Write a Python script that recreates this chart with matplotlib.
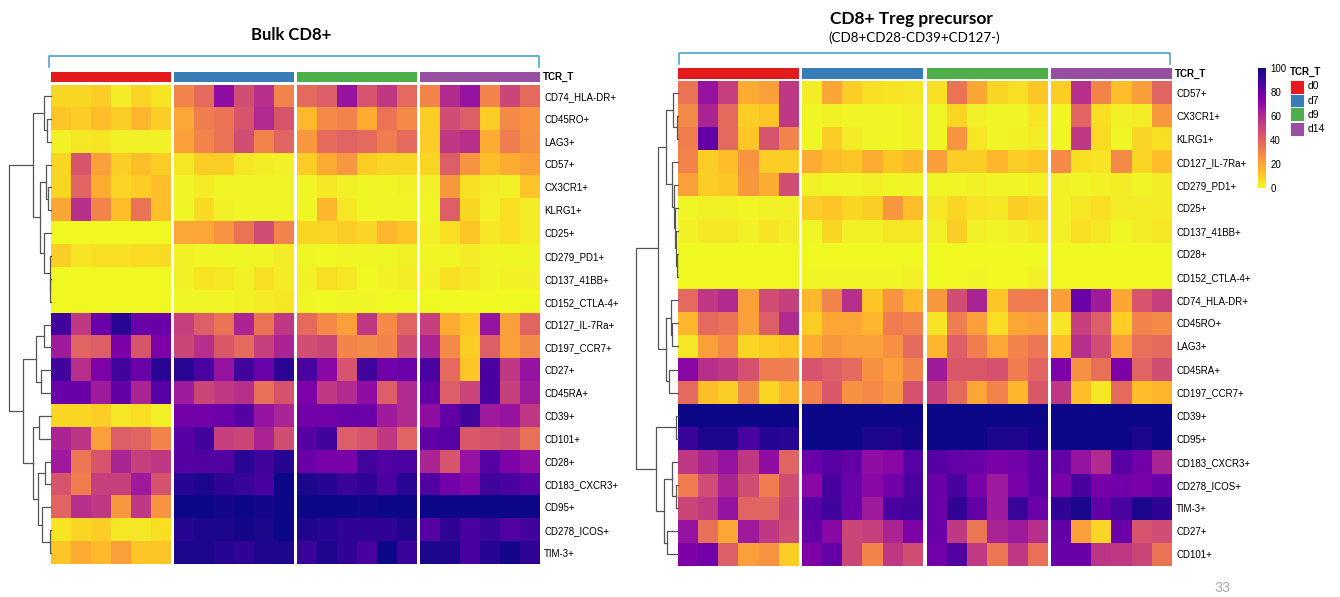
import numpy as np
import matplotlib
matplotlib.use("Agg")
import matplotlib.pyplot as plt
from matplotlib.cm import ScalarMappable
from matplotlib.colors import Normalize
from matplotlib.patches import Rectangle

W, H = 1340, 597

groups = ["d0", "d7", "d9", "d14"]
group_colors = ["#e41a1c", "#377eb8", "#4daf4a", "#984ea3"]

# ---- Bulk CD8+ : 21 markers x 24 samples (6 per time point) ----
bulk_markers = ["CD74_HLA-DR+", "CD45RO+", "LAG3+", "CD57+", "CX3CR1+", "KLRG1+",
                "CD25+", "CD279_PD1+", "CD137_41BB+", "CD152_CTLA-4+", "CD127_IL-7Ra+",
                "CD197_CCR7+", "CD27+", "CD45RA+", "CD39+", "CD101+", "CD28+",
                "CD183_CXCR3+", "CD95+", "CD278_ICOS+", "TIM-3+"]
bulk_values = np.array([
    [8, 8, 10, 3, 8, 5,      30, 38, 70, 48, 58, 30,  38, 42, 68, 45, 55, 38,  30, 60, 68, 30, 50, 38],
    [12, 10, 14, 10, 16, 10, 20, 32, 35, 45, 60, 45,  15, 28, 30, 18, 35, 28,  10, 48, 42, 10, 28, 25],
    [2, 4, 5, 2, 2, 2,       22, 30, 35, 48, 30, 40,  24, 38, 40, 38, 32, 38,  10, 55, 58, 18, 32, 26],
    [8, 45, 22, 10, 14, 10,  4, 10, 10, 4, 3, 2,      10, 18, 24, 10, 8, 8,    8, 42, 25, 14, 18, 22],
    [8, 40, 18, 8, 10, 14,   1, 3, 1, 1, 1, 1,        1, 4, 2, 1, 1, 2,        2, 24, 6, 3, 2, 12],
    [20, 58, 30, 14, 35, 14, 1, 7, 2, 1, 1, 1,        1, 16, 4, 1, 1, 1,       1, 42, 8, 2, 6, 3],
    [0, 0, 0, 0, 0, 0,       20, 20, 25, 35, 48, 30,  8, 8, 10, 8, 16, 12,     2, 6, 12, 4, 6, 3],
    [10, 5, 6, 6, 7, 7,      2, 1, 1, 1, 1, 3,        1, 0, 1, 1, 1, 2,        1, 1, 3, 1, 1, 1],
    [0, 0, 0, 0, 0, 0,       2, 5, 4, 2, 6, 3,        2, 6, 4, 0, 2, 3,        2, 6, 4, 1, 2, 2],
    [0, 0, 0, 0, 0, 0,       1, 1, 1, 2, 3, 4,        1, 0, 1, 1, 0, 0,        0, 0, 0, 0, 0, 0],
    [90, 55, 80, 95, 80, 80, 52, 42, 35, 62, 35, 55,  38, 28, 22, 55, 28, 40,  52, 18, 12, 68, 22, 40],
    [65, 40, 42, 75, 45, 75, 50, 58, 44, 38, 52, 62,  48, 50, 30, 28, 30, 48,  62, 28, 10, 42, 22, 28],
    [90, 58, 75, 90, 80, 95, 95, 88, 68, 90, 80, 95,  88, 72, 45, 90, 78, 80,  88, 38, 12, 88, 55, 68],
    [80, 80, 65, 82, 62, 85, 66, 50, 55, 58, 36, 46,  75, 55, 60, 70, 42, 60,  82, 42, 50, 88, 52, 66],
    [8, 8, 10, 4, 6, 2,      78, 78, 80, 85, 68, 62,  78, 78, 80, 80, 65, 60,  70, 82, 90, 66, 68, 55],
    [62, 56, 22, 42, 40, 30, 85, 90, 52, 50, 62, 48,  85, 90, 42, 45, 55, 40,  82, 85, 44, 46, 48, 36],
    [66, 34, 45, 62, 52, 55, 85, 86, 86, 95, 90, 96,  80, 76, 76, 90, 86, 88,  62, 45, 68, 85, 75, 70],
    [45, 32, 52, 52, 66, 46, 96, 98, 94, 92, 88, 100, 98, 96, 92, 94, 88, 95,  86, 78, 74, 90, 88, 84],
    [40, 58, 55, 24, 55, 25, 100, 100, 99, 100, 99, 100, 100, 100, 100, 99, 100, 100, 100, 100, 100, 100, 100, 100],
    [5, 8, 10, 4, 4, 6,      96, 98, 98, 99, 98, 100, 97, 96, 94, 94, 94, 97,  85, 94, 88, 92, 86, 90],
    [12, 18, 15, 22, 12, 12, 98, 98, 96, 94, 97, 98,  92, 97, 94, 88, 100, 92, 98, 97, 88, 96, 99, 94],
])

# ---- CD8+ Treg precursor ----
treg_markers = ["CD57+", "CX3CR1+", "KLRG1+", "CD127_IL-7Ra+", "CD279_PD1+", "CD25+",
                "CD137_41BB+", "CD28+", "CD152_CTLA-4+", "CD74_HLA-DR+", "CD45RO+", "LAG3+",
                "CD45RA+", "CD197_CCR7+", "CD39+", "CD95+", "CD183_CXCR3+", "CD278_ICOS+",
                "TIM-3+", "CD27+", "CD101+"]
treg_values = np.array([
    [35, 68, 52, 18, 22, 55, 3, 20, 10, 6, 5, 4,      6, 35, 20, 8, 6, 12,     10, 58, 30, 14, 22, 40],
    [28, 62, 38, 10, 12, 55, 1, 2, 1, 1, 1, 2,        1, 8, 2, 1, 1, 5,        1, 40, 6, 2, 3, 24],
    [32, 82, 38, 12, 45, 30, 1, 10, 3, 1, 1, 2,       1, 25, 4, 1, 2, 3,       1, 55, 7, 1, 8, 6],
    [30, 10, 14, 25, 10, 10, 18, 14, 12, 18, 12, 15,  22, 10, 10, 16, 10, 12,  28, 6, 5, 28, 8, 14],
    [22, 10, 12, 24, 18, 48, 2, 1, 1, 2, 1, 1,        1, 1, 2, 1, 1, 2,        2, 1, 2, 3, 1, 3],
    [1, 2, 2, 1, 2, 2,       10, 12, 8, 10, 24, 14,   4, 8, 5, 4, 10, 8,       2, 4, 6, 3, 3, 3],
    [2, 4, 4, 2, 5, 3,       1, 8, 2, 2, 4, 4,        2, 10, 2, 1, 3, 5,       2, 6, 4, 1, 3, 4],
    [0, 0, 0, 0, 0, 0,       0, 0, 0, 0, 0, 0,        0, 0, 0, 0, 0, 0,        0, 0, 0, 0, 0, 0],
    [0, 0, 0, 0, 0, 0,       1, 1, 1, 1, 1, 2,        0, 0, 1, 0, 0, 2,        0, 0, 0, 0, 0, 0],
    [38, 55, 60, 22, 48, 52, 15, 30, 58, 12, 25, 15,  24, 48, 62, 12, 32, 32,  22, 80, 65, 20, 45, 52],
    [16, 38, 35, 22, 42, 60, 10, 20, 20, 16, 32, 30,  5, 32, 22, 6, 20, 22,    4, 52, 42, 10, 30, 28],
    [4, 22, 28, 8, 10, 12,   18, 24, 22, 22, 26, 38,  16, 42, 32, 20, 30, 34,  14, 58, 48, 22, 36, 38],
    [72, 58, 55, 46, 32, 32, 45, 42, 38, 26, 22, 30,  65, 44, 44, 46, 32, 40,  75, 26, 36, 75, 40, 48],
    [38, 14, 10, 28, 8, 16,  30, 44, 26, 28, 24, 46,  52, 38, 20, 30, 16, 44,  55, 14, 4, 38, 14, 16],
    [100, 100, 100, 100, 100, 100, 100, 100, 100, 100, 100, 100, 100, 100, 100, 100, 100, 100, 100, 100, 100, 100, 100, 100],
    [92, 98, 98, 88, 96, 95, 100, 100, 100, 98, 97, 99, 100, 100, 100, 98, 97, 99, 100, 100, 100, 100, 98, 100],
    [55, 62, 68, 55, 70, 40, 80, 85, 82, 70, 72, 85,  85, 82, 80, 76, 78, 84,  82, 68, 60, 84, 78, 62],
    [32, 48, 62, 48, 32, 48, 72, 88, 80, 72, 78, 88,  80, 88, 76, 66, 76, 84,  76, 88, 76, 78, 76, 80],
    [50, 54, 68, 40, 40, 50, 84, 90, 80, 66, 88, 90,  80, 94, 82, 66, 92, 80,  94, 98, 82, 88, 98, 94],
    [68, 36, 20, 66, 55, 48, 82, 72, 50, 52, 62, 75,  80, 55, 34, 62, 66, 58,  82, 22, 8, 80, 45, 48],
    [75, 78, 42, 22, 25, 10, 75, 82, 50, 30, 55, 48,  78, 86, 54, 34, 55, 36,  80, 80, 56, 55, 50, 35],
])

# row dendrograms: (merge height, left, right), leaves are row indices
bulk_tree = (124,
             (54, (22, 0, (12, 1, 2)),
                  (32, (14, 3, (8, 4, 5)), (22, 6, (4, 7, (2, 8, 9))))),
             (84, (44, (22, 10, 11), (30, 12, 13)),
                  (52, (35, 14, 15), (37, (17, 16, 17), (27, 18, (4, 19, 20))))))
treg_tree = (125,
             (59, (35, (15, 0, (3, 1, 2)),
                       (19, 3, (12, 4, (8, 5, (6, 6, (2, 7, 8)))))),
                  (37, (22, 9, (17, 10, 11)), (27, 12, 13))),
             (65, (5, 14, 15),
                  (42, (17, 16, (7, 17, 18)), (32, 19, 20))))

cmap = plt.get_cmap("plasma_r")
norm = Normalize(0, 100)
bracket_color = "#3d9cc9"
label_font = "Liberation Sans"
title_font = "Lato"


def box(x0, y0, x1, y1):
    return [x0 / W, 1 - y1 / H, (x1 - x0) / W, (y1 - y0) / H]


def fx(x):
    return x / W


def fy(y):
    return 1 - y / H


def plain(ax):
    ax.set_xticks([])
    ax.set_yticks([])
    for s in ax.spines.values():
        s.set_visible(False)


def dendro(ax, node):
    if isinstance(node, int):
        return node, 0
    h, left, right = node
    yl, hl = dendro(ax, left)
    yr, hr = dendro(ax, right)
    ax.plot([hl, h, h, hr], [yl, yl, yr, yr], color="#555555", lw=0.9, clip_on=False)
    return (yl + yr) / 2, h


def panel(values, markers, tree, x0, gw, gap, top, bottom, bar_top, bar_bottom, dendro_x):
    n = len(markers)
    per = values.shape[1] // len(groups)
    for g in range(len(groups)):
        x = x0 + g * (gw + gap)
        ax = fig.add_axes(box(x, top, x + gw, bottom))
        ax.imshow(values[:, g * per:(g + 1) * per], cmap=cmap, norm=norm,
                  aspect="auto", interpolation="nearest")
        plain(ax)
        bar = fig.add_axes(box(x, bar_top, x + gw, bar_bottom))
        plain(bar)
        bar.set_facecolor(group_colors[g])
    # row labels on the right of the last block
    ax.yaxis.tick_right()
    ax.set_yticks(range(n))
    ax.set_yticklabels(markers, fontsize=7, family=label_font)
    ax.tick_params(axis="y", length=0, pad=3)
    x_end = x0 + len(groups) * gw + (len(groups) - 1) * gap
    fig.text(fx(x_end + 3), fy((bar_top + bar_bottom) / 2), "TCR_T", fontsize=7,
             fontweight="bold", family=label_font, va="center", ha="left")
    # dendrogram
    dax = fig.add_axes(box(dendro_x, top, x0, bottom))
    dendro(dax, tree)
    dax.set_ylim(n - 0.5, -0.5)
    dax.set_xlim(tree[0], 0)
    dax.axis("off")


def bracket(x0, x1, y, y_end):
    bax = fig.add_axes([0, 0, 1, 1])
    bax.set_xlim(0, W)
    bax.set_ylim(H, 0)
    bax.axis("off")
    bax.plot([x0, x0, x1, x1], [y_end, y, y, y_end], color=bracket_color, lw=1.1)


fig = plt.figure(figsize=(W / 100, H / 100), dpi=100)

# left: Bulk CD8+
panel(bulk_values, bulk_markers, bulk_tree, 51, 119.7, 3.4, 84.5, 564.5, 72.3, 82.3, 9)
bracket(48.6, 538.9, 55.7, 66.5)
fig.text(fx(291.5), fy(35), "Bulk CD8+", fontsize=12, fontweight="bold",
         family=title_font, ha="center", va="center")

# right: CD8+ Treg precursor
panel(treg_values, treg_markers, treg_tree, 678, 121, 3.3, 81, 565.7, 68.3, 79, 636)
bracket(679.3, 1169.6, 53.3, 64)
fig.text(fx(911.5), fy(19), "CD8+ Treg precursor", fontsize=12.5, fontweight="bold",
         family=title_font, ha="center", va="center")
fig.text(fx(914.5), fy(37.5), "(CD8+CD28-CD39+CD127-)", fontsize=9.6,
         family=title_font, ha="center", va="center")

# colour scale
cax = fig.add_axes(box(1258.3, 68.3, 1266, 188.3))
cb = fig.colorbar(ScalarMappable(norm=norm, cmap=cmap), cax=cax)
cb.outline.set_visible(False)
cb.set_ticks([0, 20, 40, 60, 80, 100])
cax.tick_params(length=0, pad=3, labelsize=7)
for t in cax.get_yticklabels():
    t.set_family(label_font)

# TCR_T legend
fig.text(fx(1290), fy(71.7), "TCR_T", fontsize=7, fontweight="bold",
         family=label_font, va="center", ha="left")
for i, (name, col) in enumerate(zip(groups, group_colors)):
    y0 = 79.5 + i * 14
    fig.patches.append(Rectangle((fx(1290), fy(y0 + 14)), 14 / W, 14 / H,
                                 transform=fig.transFigure, facecolor=col,
                                 edgecolor="white", lw=0.6))
    fig.text(fx(1307.5), fy(y0 + 7), name, fontsize=7.5, family=label_font,
             va="center", ha="left")

fig.text(fx(1222), fy(588), "33", fontsize=10, color="#a6a6a6",
         family=title_font, ha="center", va="center")

fig.savefig("out.png", dpi=100)
